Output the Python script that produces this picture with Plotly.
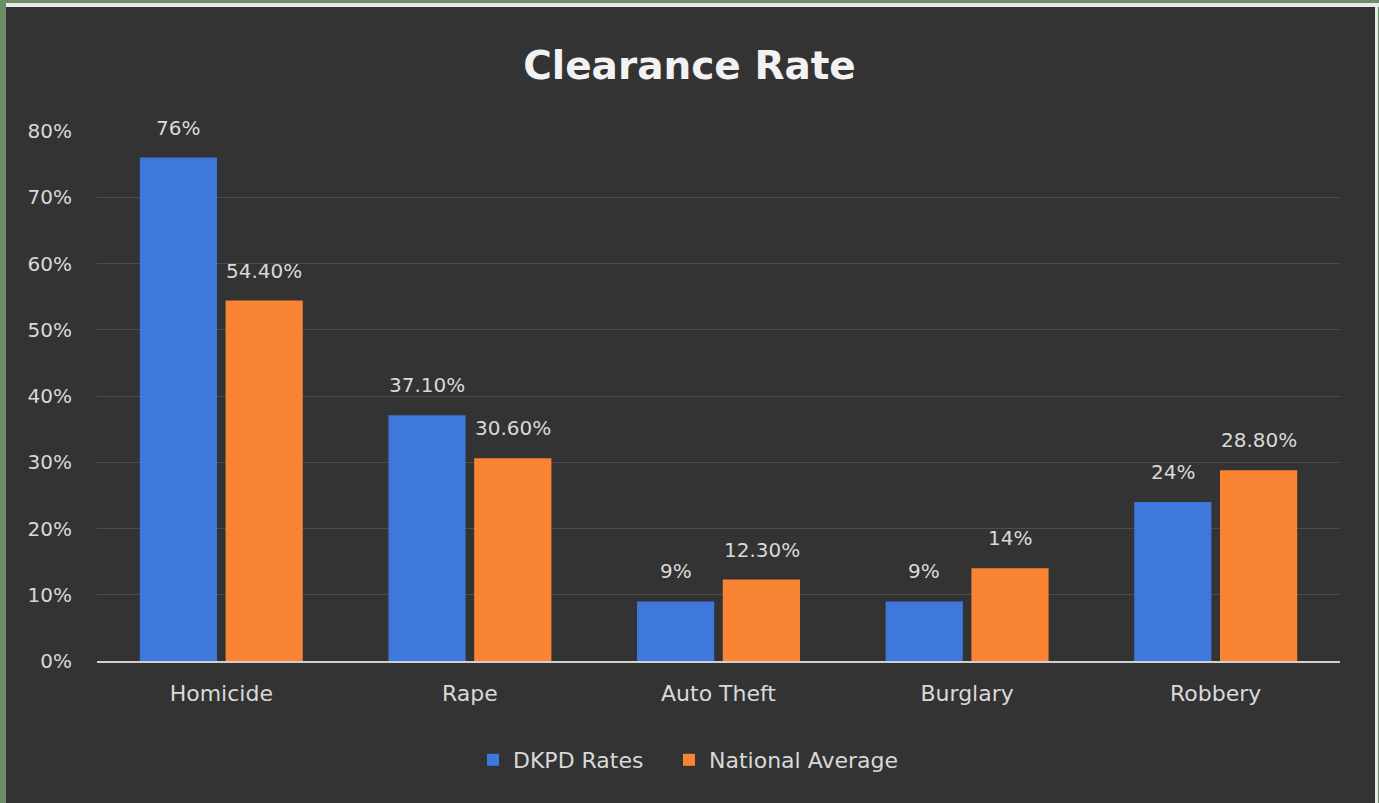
import plotly.graph_objects as go

categories = ["Homicide", "Rape", "Auto Theft", "Burglary", "Robbery"]
dkpd_rates = [76, 37.1, 9, 9, 24]
dkpd_labels = ["76%", "37.10%", "9%", "9%", "24%"]
national_avg = [54.4, 30.6, 12.3, 14, 28.8]
national_labels = ["54.40%", "30.60%", "12.30%", "14%", "28.80%"]
y_ticks = [0, 10, 20, 30, 40, 50, 60, 70, 80]
y_tick_labels = ["0%", "10%", "20%", "30%", "40%", "50%", "60%", "70%", "80%"]

W, H = 1379, 803
ML, MR, MT, MB = 97, 39, 131, 142
PW, PH = W - ML - MR, H - MT - MB

def px_x(p):
    return (p - ML) / PW

def px_y(p):
    return (H - MB - p) / PH

LABEL_COLOR = "#D9D9D9"
FONT = "DejaVu Sans"
BLUE = "#3F78DC"
ORANGE = "#F98434"

fig = go.Figure()
fig.add_trace(go.Bar(
    x=categories, y=dkpd_rates, name="DKPD Rates",
    marker=dict(color=BLUE, line=dict(width=0)), legend="legend",
))
fig.add_trace(go.Bar(
    x=categories, y=national_avg, name="National Average",
    marker=dict(color=ORANGE, line=dict(width=0)), legend="legend2",
))

annotations = []
for cat, v, t in zip(categories, dkpd_rates, dkpd_labels):
    annotations.append(dict(x=cat, y=v, xref="x", yref="y", text=t,
                            showarrow=False, xanchor="center", yanchor="bottom",
                            xshift=-43, yshift=16,
                            font=dict(size=20, color=LABEL_COLOR, family=FONT)))
for cat, v, t in zip(categories, national_avg, national_labels):
    annotations.append(dict(x=cat, y=v, xref="x", yref="y", text=t,
                            showarrow=False, xanchor="center", yanchor="bottom",
                            xshift=43, yshift=16,
                            font=dict(size=20, color=LABEL_COLOR, family=FONT)))

shapes = [
    dict(type="rect", xref="paper", yref="paper", layer="below",
         x0=px_x(6), x1=px_x(1375), y0=px_y(803), y1=px_y(7),
         fillcolor="#333333", line=dict(width=0)),
    dict(type="rect", xref="paper", yref="paper", layer="below",
         x0=px_x(6), x1=px_x(1379), y0=px_y(7), y1=px_y(3),
         fillcolor="#E8E8E8", line=dict(width=0)),
    dict(type="rect", xref="paper", yref="paper", layer="below",
         x0=px_x(1375), x1=px_x(1378), y0=px_y(803), y1=px_y(3),
         fillcolor="#E8E8E8", line=dict(width=0)),
]

legend_common = dict(orientation="h", xanchor="left",
                     y=px_y(760), yanchor="middle",
                     font=dict(size=22, color=LABEL_COLOR, family=FONT),
                     bgcolor="rgba(0,0,0,0)", itemsizing="constant")

fig.update_layout(
    width=W, height=H,
    margin=dict(l=ML, r=MR, t=MT, b=MB),
    paper_bgcolor="#6B8C64",
    plot_bgcolor="rgba(0,0,0,0)",
    title=dict(text="<b>Clearance Rate</b>", x=0.5, xanchor="center",
               y=1 - 65 / H, yanchor="middle",
               font=dict(family=FONT, size=39, color="#F2F2F2")),
    barmode="group", bargap=0.31, bargroupgap=0.1,
    font=dict(family=FONT, color=LABEL_COLOR),
    showlegend=True,
    legend=dict(x=px_x(473), **legend_common),
    legend2=dict(x=px_x(669), **legend_common),
    xaxis=dict(showgrid=False, showline=True, linecolor="#D0D0D0", linewidth=2,
               ticks="", tickfont=dict(size=22, color=LABEL_COLOR, family=FONT),
               ticklabelstandoff=12, zeroline=False),
    yaxis=dict(range=[0, 80], tickvals=y_ticks, ticktext=y_tick_labels,
               showgrid=True, gridcolor="rgba(255,255,255,0.13)", gridwidth=1,
               zeroline=False, showline=False, ticks="",
               tickfont=dict(size=20, color=LABEL_COLOR, family=FONT),
               ticklabelstandoff=24),
    shapes=shapes,
    annotations=annotations,
)

fig.write_html("out.html", config={"displayModeBar": False},
               post_script="document.body.style.margin='0';")
